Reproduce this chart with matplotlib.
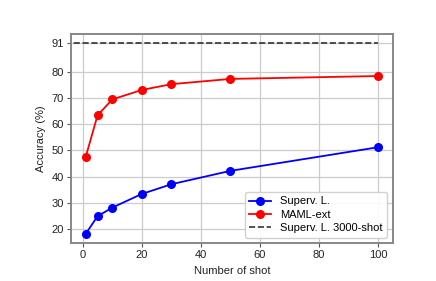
import matplotlib
matplotlib.use("Agg")
import matplotlib.pyplot as plt

shots = [1, 5, 10, 20, 30, 50, 100]
superv = [18.2, 24.9, 28.2, 33.4, 37.1, 42.2, 51.2]
maml = [47.5, 63.3, 69.4, 73.0, 75.2, 77.2, 78.3]
superv_3000 = 91
yticks = [20, 30, 40, 50, 60, 70, 80, 91]
xticks = [0, 20, 40, 60, 80, 100]

plt.rcParams['font.family'] = ['Liberation Sans', 'DejaVu Sans']
fig = plt.figure(figsize=(4.36, 2.81), dpi=100)
ax = fig.add_axes([0.163, 0.135, 0.738, 0.744])

ax.plot(shots, superv, '-o', color='blue', lw=1.3, ms=5.5, label='Superv. L.', zorder=3)
ax.plot(shots, maml, '-o', color='red', lw=1.3, ms=5.5, label='MAML-ext', zorder=3)
xl = ax.get_xlim()
ax.plot([xl[0] - 5, shots[-1]], [superv_3000, superv_3000], '--', color='#333333', lw=1.2,
        label='Superv. L. 3000-shot', zorder=2)
ax.set_xlim(xl)
ax.set_ylim(14.7, 94.3)

ax.set_xticks(xticks)
ax.set_yticks(yticks)
ax.grid(True, color='#cccccc', lw=0.9)
ax.set_axisbelow(True)
for s in ax.spines.values():
    s.set_color('#888888')
    s.set_linewidth(1.4)
ax.tick_params(labelsize=8, length=3, width=0.8, color='#555555', labelcolor='#222222', pad=2)
ax.set_xlabel('Number of shot', fontsize=8, color='#222222')
ax.set_ylabel('Accuracy (%)', fontsize=8, color='#222222')
leg = ax.legend(loc='lower right', fontsize=8, framealpha=0.9, edgecolor='#cccccc',
                borderpad=0.4, labelspacing=0.3, handlelength=2.0)
fig.savefig('out.png', dpi=100)
